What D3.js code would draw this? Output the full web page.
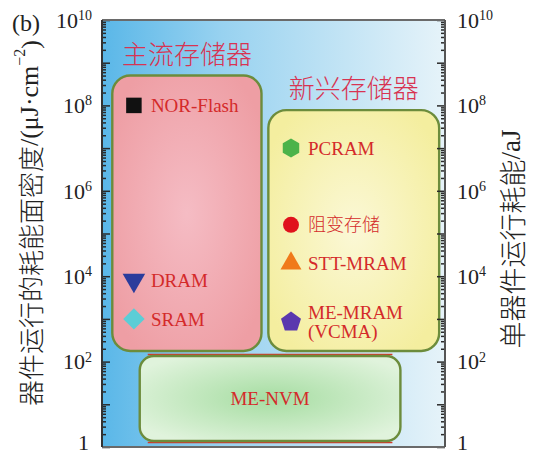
<!DOCTYPE html>
<html>
<head>
<meta charset="utf-8">
<script src="https://cdn.jsdelivr.net/npm/d3@7/dist/d3.min.js"></script>
<style>
  html, body { margin: 0; padding: 0; background: #fff; }
  svg { display: block; }
  .latin { font-family: "Liberation Serif", "Times New Roman", serif; }
  .cjk { font-family: "Noto Sans CJK SC", sans-serif; font-weight: 300; }
</style>
</head>
<body>
<svg id="chart" width="536" height="457"></svg>
<script>
// ---- data ----
const decadeExponents = [0, 1, 2, 3, 4, 5, 6, 7, 8, 9, 10];
const labelExponents = [0, 2, 4, 6, 8, 10];

// energy windows of the three memory families (energy in the y units)
const groupNames = ["主流存储器", "新兴存储器", "ME-NVM"];
const groupXMin = [3, 48.5, 11];
const groupXMax = [46.5, 98.3, 87];
const groupYMin = [Math.pow(10, 2.25), Math.pow(10, 2.25), Math.pow(10, 0.14)];
const groupYMax = [Math.pow(10, 8.7), Math.pow(10, 7.89), Math.pow(10, 2.13)];

// individual devices
const deviceNames = ["NOR-Flash", "DRAM", "SRAM", "PCRAM", "阻变存储", "STT-MRAM", "ME-MRAM\n(VCMA)"];
const deviceGroup = [0, 0, 0, 1, 1, 1, 1];
const deviceEnergy = [1e8, 8e3, 1e3, 1e7, 1.6e5, 2e4, 8.5e2];

// ---- styles ----
const deviceShape = ["square", "triangleDown", "diamond", "hexagon", "circle", "triangle", "pentagon"];
const deviceColor = ["#111111", "#2b3c9c", "#5ccdd6", "#4cb34a", "#e0121c", "#f07a1a", "#5a38ae"];
const labelRed = "#d42a2a";
const titleRed = "#d83352";
const boxStroke = "#6c8c3c";

const frame = { left: 102, right: 445, top: 20, bottom: 447 };

const svg = d3.select("#chart");
const defs = svg.append("defs");

const x = d3.scaleLinear().domain([0, 100]).range([frame.left, frame.right]);
const y = d3.scaleLog().domain([1, 1e10]).range([frame.bottom, frame.top]);

// background gradient of the plotting area
const bg = defs.append("linearGradient").attr("id", "bg").attr("x1", 0).attr("x2", 1).attr("y1", 0).attr("y2", 0);
bg.append("stop").attr("offset", 0).attr("stop-color", "#5ab7e8");
bg.append("stop").attr("offset", 0.35).attr("stop-color", "#98d2f0");
bg.append("stop").attr("offset", 1).attr("stop-color", "#e6f3f9");

function radial(id, inner, outer) {
  const g = defs.append("radialGradient").attr("id", id).attr("cx", 0.5).attr("cy", 0.5).attr("r", 0.6);
  g.append("stop").attr("offset", 0).attr("stop-color", inner);
  g.append("stop").attr("offset", 1).attr("stop-color", outer);
}
radial("fill0", "#f5bcc4", "#ee9ea4");
radial("fill1", "#fbf8d6", "#f4ee9f");
radial("fill2", "#a6dda2", "#e0f3dc");

svg.append("rect")
  .attr("x", frame.left).attr("y", frame.top)
  .attr("width", frame.right - frame.left).attr("height", frame.bottom - frame.top)
  .attr("fill", "url(#bg)");

// ---- family boxes ----
const groups = groupNames.map((name, i) => ({
  name, i,
  x0: x(groupXMin[i]), x1: x(groupXMax[i]),
  y0: y(groupYMax[i]), y1: y(groupYMin[i])
}));

// thin red rules along the long edges of the ME-NVM box
const g2 = groups[2];
[g2.y0 - 1.5, g2.y1 + 1.5].forEach(yy => {
  svg.append("line")
    .attr("x1", g2.x0 + 8).attr("x2", g2.x1 - 8)
    .attr("y1", yy).attr("y2", yy)
    .attr("stroke", "#d23a2a").attr("stroke-width", 1.4);
});

svg.selectAll("rect.box").data(groups).join("rect")
  .attr("class", "box")
  .attr("x", d => d.x0).attr("y", d => d.y0)
  .attr("width", d => d.x1 - d.x0).attr("height", d => d.y1 - d.y0)
  .attr("rx", d => d.i === 2 ? 14 : 18)
  .attr("fill", d => `url(#fill${d.i})`)
  .attr("stroke", boxStroke).attr("stroke-width", 2.4);

// family titles
svg.selectAll("text.gtitle").data(groups.slice(0, 2)).join("text")
  .attr("class", "gtitle cjk")
  .attr("x", d => (d.x0 + d.x1) / 2)
  .attr("y", d => d.y0 - 12)
  .attr("text-anchor", "middle")
  .attr("font-size", 26)
  .attr("fill", titleRed)
  .text(d => d.name);

svg.append("text")
  .attr("class", "latin")
  .attr("x", (g2.x0 + g2.x1) / 2)
  .attr("y", (g2.y0 + g2.y1) / 2)
  .attr("dy", "0.35em")
  .attr("text-anchor", "middle")
  .attr("font-size", 19)
  .attr("fill", labelRed)
  .text(g2.name);

// ---- device markers ----
function polygon(n, r, rot) {
  const pts = d3.range(n).map(k => {
    const a = rot + k * 2 * Math.PI / n;
    return [r * Math.cos(a), r * Math.sin(a)];
  });
  return d3.line()(pts) + "Z";
}
const shapePath = {
  square: d3.symbol(d3.symbolSquare, 240)(),
  diamond: d3.symbol(d3.symbolSquare, 230)(),
  triangle: d3.symbol(d3.symbolTriangle, 190)(),
  triangleDown: d3.symbol(d3.symbolTriangle, 220)(),
  circle: d3.symbol(d3.symbolCircle, 200)(),
  hexagon: polygon(6, 9.5, Math.PI / 6),
  pentagon: polygon(5, 10.5, -Math.PI / 2)
};
const shapeRotate = { diamond: 45, triangleDown: 180 };

const devices = deviceNames.map((name, i) => ({
  name, i,
  cx: x(groupXMin[deviceGroup[i]] + (deviceGroup[i] === 0 ? 6.3 : 6.6)),
  cy: y(deviceEnergy[i])
}));

svg.selectAll("path.marker").data(devices).join("path")
  .attr("class", "marker")
  .attr("d", d => shapePath[deviceShape[d.i]])
  .attr("transform", d => `translate(${d.cx},${d.cy}) rotate(${shapeRotate[deviceShape[d.i]] || 0})`)
  .attr("fill", d => deviceColor[d.i]);

const labels = svg.selectAll("text.dlabel").data(devices).join("text")
  .attr("class", d => "dlabel " + (/[\u4e00-\u9fff]/.test(d.name) ? "cjk" : "latin"))
  .attr("x", d => d.cx + 17)
  .attr("y", d => d.cy)
  .attr("font-size", d => /[\u4e00-\u9fff]/.test(d.name) ? 18 : 19)
  .attr("fill", labelRed);
labels.each(function (d) {
  const lines = d.name.split("\n");
  const t = d3.select(this);
  lines.forEach((ln, k) => {
    t.append("tspan")
      .attr("x", d.cx + 17)
      .attr("y", d.cy)
      .attr("dy", (0.35 + (k - (lines.length - 1) / 2) * 1.0) + "em")
      .text(ln);
  });
});

// ---- axes ----
const minorTicks = [];
decadeExponents.slice(0, -1).forEach(e => {
  for (let m = 2; m <= 9; m++) minorTicks.push(m * Math.pow(10, e));
});
const majorTicks = decadeExponents.map(e => Math.pow(10, e));

function drawAxis(gen, tx) {
  const gMinor = svg.append("g").attr("transform", `translate(${tx},0)`)
    .call(gen().tickValues(minorTicks).tickSizeInner(-4).tickSizeOuter(0).tickFormat(""));
  const gMajor = svg.append("g").attr("transform", `translate(${tx},0)`)
    .call(gen().tickValues(majorTicks).tickSizeInner(-8).tickSizeOuter(0).tickFormat(""));
  [gMinor, gMajor].forEach(g => {
    g.select(".domain").remove();
    g.selectAll("line").attr("stroke", "#2a2a2a").attr("stroke-width", 1.5);
  });
}
drawAxis(() => d3.axisLeft(y), frame.left);
drawAxis(() => d3.axisRight(y), frame.right);

// frame
svg.append("line").attr("x1", frame.left).attr("x2", frame.right).attr("y1", frame.top).attr("y2", frame.top)
  .attr("stroke", "#6a6a6a").attr("stroke-width", 2);
svg.append("line").attr("x1", frame.left).attr("x2", frame.right).attr("y1", frame.bottom).attr("y2", frame.bottom)
  .attr("stroke", "#6a6a6a").attr("stroke-width", 2);
svg.append("line").attr("x1", frame.left).attr("x2", frame.left).attr("y1", frame.top).attr("y2", frame.bottom)
  .attr("stroke", "#333").attr("stroke-width", 2);
svg.append("line").attr("x1", frame.right).attr("x2", frame.right).attr("y1", frame.top).attr("y2", frame.bottom)
  .attr("stroke", "#555").attr("stroke-width", 2);

// power-of-ten tick labels (the bottom "1" is nudged up to stay on the page)
function tickLabel(sel, e) {
  if (e === 0) { sel.text("1"); return; }
  sel.append("tspan").text("10");
  sel.append("tspan").attr("dy", "-0.55em").attr("font-size", 14).text(e);
}
labelExponents.forEach(e => {
  const v = Math.pow(10, e);
  const dy = e === 0 ? "0.12em" : "0.35em";
  const l = svg.append("text").attr("class", "latin")
    .attr("x", frame.left - (e === 0 ? 13 : 10)).attr("y", y(v)).attr("dy", dy)
    .attr("text-anchor", "end").attr("font-size", 22).attr("fill", "#222");
  tickLabel(l, e);
  const r = svg.append("text").attr("class", "latin")
    .attr("x", frame.right + 12).attr("y", y(v)).attr("dy", dy)
    .attr("text-anchor", "start").attr("font-size", 22).attr("fill", "#222");
  tickLabel(r, e);
});

// axis titles
const lt = svg.append("text")
  .attr("transform", `translate(29,223) rotate(-90)`)
  .attr("text-anchor", "middle").attr("dominant-baseline", "central")
  .attr("font-size", 26).attr("fill", "#222");
lt.append("tspan").attr("class", "cjk").text("器件运行的耗能面密度");
lt.append("tspan").attr("class", "latin").text("/(μJ·cm");
lt.append("tspan").attr("class", "latin").attr("font-size", 16).attr("dy", "-0.6em").text("−2");
lt.append("tspan").attr("class", "latin").attr("dy", "0.4em").text(")");

const rt = svg.append("text")
  .attr("transform", `translate(511,239) rotate(-90)`)
  .attr("text-anchor", "middle").attr("dominant-baseline", "central")
  .attr("font-size", 27).attr("fill", "#222");
rt.append("tspan").attr("class", "cjk").text("单器件运行耗能");
rt.append("tspan").attr("class", "latin").text("/aJ");

// panel tag
svg.append("text").attr("class", "latin")
  .attr("x", 12).attr("y", 31)
  .attr("font-size", 24).attr("fill", "#222")
  .text("(b)");
</script>
</body>
</html>
